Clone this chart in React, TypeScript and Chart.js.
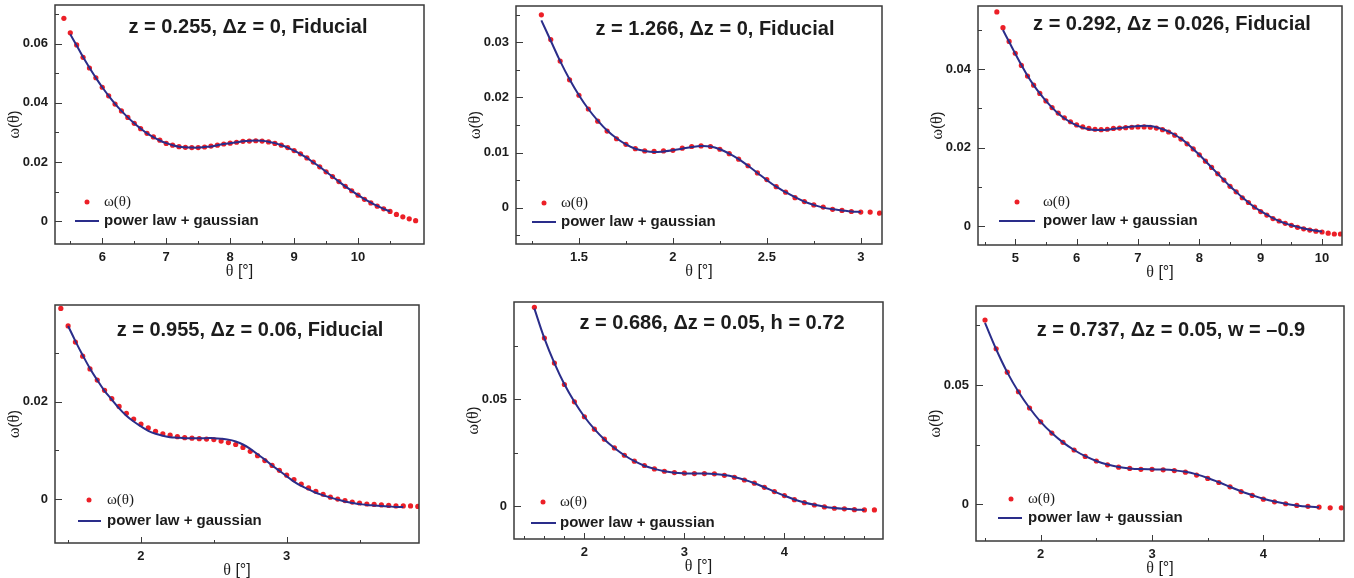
import React, { useEffect, useRef } from 'react';
import { Chart, registerables } from 'chart.js';

Chart.register(...registerables);

const SANS = '"Liberation Sans", Arial, Helvetica, sans-serif';
const SERIF = '"Liberation Serif", "Times New Roman", serif';
const RED = '#ec1f27';
const BLUE = '#2a2d8a';
const INK = '#1c1c1c';
const FRAME = '#3a3a3a';

// ---------- Panel 1: z = 0.255, Δz = 0, Fiducial ----------
const p1Theta = [5.4, 5.5, 5.6, 5.7, 5.8, 5.9, 6.0, 6.1, 6.2, 6.3, 6.4, 6.5, 6.6, 6.7, 6.8, 6.9, 7.0, 7.1, 7.2, 7.3, 7.4, 7.5, 7.6, 7.7, 7.8, 7.9, 8.0, 8.1, 8.2, 8.3, 8.4, 8.5, 8.6, 8.7, 8.8, 8.9, 9.0, 9.1, 9.2, 9.3, 9.4, 9.5, 9.6, 9.7, 9.8, 9.9, 10.0, 10.1, 10.2, 10.3, 10.4, 10.5, 10.6, 10.7, 10.8, 10.9];
const p1Omega = [0.0686, 0.0637, 0.0596, 0.0554, 0.0518, 0.0485, 0.0453, 0.0424, 0.0396, 0.0373, 0.0351, 0.0331, 0.0313, 0.0297, 0.0285, 0.0274, 0.0263, 0.0257, 0.0252, 0.0250, 0.0249, 0.0249, 0.0251, 0.0254, 0.0257, 0.0261, 0.0264, 0.0267, 0.0270, 0.0271, 0.0272, 0.0271, 0.0268, 0.0263, 0.0257, 0.0249, 0.0239, 0.0228, 0.0214, 0.0200, 0.0184, 0.0167, 0.0151, 0.0134, 0.0118, 0.0103, 0.0088, 0.0074, 0.0062, 0.0051, 0.0042, 0.0033, 0.0023, 0.0015, 0.0008, 0.0002];
const p1FitTheta = p1Theta.slice(1, 52);
const p1Fit = [0.0632, 0.0594, 0.0555, 0.0519, 0.0485, 0.0453, 0.0424, 0.0397, 0.0373, 0.0351, 0.0331, 0.0313, 0.0297, 0.0284, 0.0273, 0.0264, 0.0257, 0.0252, 0.0250, 0.0249, 0.0249, 0.0251, 0.0253, 0.0257, 0.0261, 0.0264, 0.0267, 0.0270, 0.0272, 0.0273, 0.0272, 0.0269, 0.0264, 0.0257, 0.0249, 0.0239, 0.0227, 0.0214, 0.0199, 0.0184, 0.0167, 0.0151, 0.0134, 0.0118, 0.0103, 0.0088, 0.0075, 0.0063, 0.0052, 0.0042, 0.0033];

// ---------- Panel 2: z = 1.266, Δz = 0, Fiducial ----------
const p2Theta = [1.3, 1.35, 1.4, 1.45, 1.5, 1.55, 1.6, 1.65, 1.7, 1.75, 1.8, 1.85, 1.9, 1.95, 2.0, 2.05, 2.1, 2.15, 2.2, 2.25, 2.3, 2.35, 2.4, 2.45, 2.5, 2.55, 2.6, 2.65, 2.7, 2.75, 2.8, 2.85, 2.9, 2.95, 3.0, 3.05, 3.1];
const p2Omega = [0.0350, 0.0305, 0.0266, 0.0232, 0.0204, 0.0179, 0.0157, 0.0139, 0.0125, 0.0115, 0.0107, 0.0103, 0.0102, 0.0103, 0.0104, 0.0108, 0.0111, 0.0112, 0.0111, 0.0106, 0.0098, 0.0088, 0.0076, 0.0063, 0.0051, 0.0038, 0.0028, 0.0018, 0.0011, 0.0005, 0.0001, -0.0003, -0.0005, -0.0007, -0.0008, -0.0008, -0.0010];
const p2FitTheta = p2Theta.slice(0, 35);
const p2Fit = [0.0340, 0.0303, 0.0266, 0.0233, 0.0204, 0.0179, 0.0158, 0.0140, 0.0126, 0.0115, 0.0107, 0.0103, 0.0101, 0.0102, 0.0104, 0.0107, 0.0110, 0.0112, 0.0111, 0.0106, 0.0098, 0.0088, 0.0076, 0.0063, 0.0050, 0.0038, 0.0028, 0.0019, 0.0011, 0.0005, 0.0000, -0.0003, -0.0005, -0.0007, -0.0008];

// ---------- Panel 3: z = 0.292, Δz = 0.026, Fiducial ----------
const p3Theta = [4.7, 4.8, 4.9, 5.0, 5.1, 5.2, 5.3, 5.4, 5.5, 5.6, 5.7, 5.8, 5.9, 6.0, 6.1, 6.2, 6.3, 6.4, 6.5, 6.6, 6.7, 6.8, 6.9, 7.0, 7.1, 7.2, 7.3, 7.4, 7.5, 7.6, 7.7, 7.8, 7.9, 8.0, 8.1, 8.2, 8.3, 8.4, 8.5, 8.6, 8.7, 8.8, 8.9, 9.0, 9.1, 9.2, 9.3, 9.4, 9.5, 9.6, 9.7, 9.8, 9.9, 10.0, 10.1, 10.2, 10.3];
const p3Omega = [0.0545, 0.0505, 0.0470, 0.0440, 0.0409, 0.0382, 0.0359, 0.0338, 0.0319, 0.0302, 0.0288, 0.0276, 0.0266, 0.0258, 0.0253, 0.0249, 0.0247, 0.0246, 0.0247, 0.0249, 0.0250, 0.0251, 0.0252, 0.0253, 0.0253, 0.0252, 0.0250, 0.0246, 0.0240, 0.0232, 0.0222, 0.0210, 0.0197, 0.0182, 0.0166, 0.0150, 0.0134, 0.0118, 0.0102, 0.0088, 0.0073, 0.0061, 0.0049, 0.0038, 0.0029, 0.0020, 0.0014, 0.0008, 0.0003, -0.0002, -0.0006, -0.0009, -0.0012, -0.0014, -0.0017, -0.0019, -0.0019];
const p3FitTheta = p3Theta.slice(1, 54);
const p3Fit = [0.0499, 0.0469, 0.0439, 0.0410, 0.0383, 0.0359, 0.0338, 0.0319, 0.0302, 0.0287, 0.0275, 0.0265, 0.0257, 0.0251, 0.0247, 0.0245, 0.0245, 0.0246, 0.0248, 0.0250, 0.0252, 0.0254, 0.0255, 0.0256, 0.0255, 0.0252, 0.0247, 0.0241, 0.0233, 0.0223, 0.0211, 0.0197, 0.0182, 0.0166, 0.0150, 0.0134, 0.0118, 0.0102, 0.0088, 0.0074, 0.0061, 0.0049, 0.0039, 0.0030, 0.0021, 0.0014, 0.0008, 0.0003, -0.0001, -0.0005, -0.0008, -0.0011, -0.0013];

// ---------- Panel 4: z = 0.955, Δz = 0.06, Fiducial ----------
const p4Theta = [1.45, 1.5, 1.55, 1.6, 1.65, 1.7, 1.75, 1.8, 1.85, 1.9, 1.95, 2.0, 2.05, 2.1, 2.15, 2.2, 2.25, 2.3, 2.35, 2.4, 2.45, 2.5, 2.55, 2.6, 2.65, 2.7, 2.75, 2.8, 2.85, 2.9, 2.95, 3.0, 3.05, 3.1, 3.15, 3.2, 3.25, 3.3, 3.35, 3.4, 3.45, 3.5, 3.55, 3.6, 3.65, 3.7, 3.75, 3.8, 3.85, 3.9];
const p4Omega = [0.0391, 0.0355, 0.0322, 0.0293, 0.0267, 0.0244, 0.0223, 0.0206, 0.0190, 0.0176, 0.0164, 0.0154, 0.0146, 0.0139, 0.0134, 0.0131, 0.0128, 0.0126, 0.0125, 0.0124, 0.0123, 0.0122, 0.0119, 0.0116, 0.0112, 0.0106, 0.0098, 0.0089, 0.0079, 0.0069, 0.0059, 0.0049, 0.0040, 0.0031, 0.0023, 0.0016, 0.0010, 0.0004, 0.0000, -0.0003, -0.0006, -0.0008, -0.0010, -0.0011, -0.0012, -0.0013, -0.0014, -0.0014, -0.0014, -0.0015];
const p4FitTheta = p4Theta.slice(1, 48);
const p4Fit = [0.0355, 0.0324, 0.0295, 0.0268, 0.0244, 0.0222, 0.0204, 0.0186, 0.0171, 0.0159, 0.0149, 0.0140, 0.0134, 0.0130, 0.0127, 0.0126, 0.0125, 0.0125, 0.0125, 0.0125, 0.0125, 0.0124, 0.0122, 0.0118, 0.0112, 0.0103, 0.0092, 0.0081, 0.0069, 0.0058, 0.0047, 0.0036, 0.0027, 0.0020, 0.0013, 0.0008, 0.0003, -0.0001, -0.0005, -0.0008, -0.0010, -0.0012, -0.0013, -0.0014, -0.0015, -0.0016, -0.0016];

// ---------- Panel 5: z = 0.686, Δz = 0.05, h = 0.72 ----------
const p5Theta = [1.5, 1.6, 1.7, 1.8, 1.9, 2.0, 2.1, 2.2, 2.3, 2.4, 2.5, 2.6, 2.7, 2.8, 2.9, 3.0, 3.1, 3.2, 3.3, 3.4, 3.5, 3.6, 3.7, 3.8, 3.9, 4.0, 4.1, 4.2, 4.3, 4.4, 4.5, 4.6, 4.7, 4.8, 4.9];
const p5Omega = [0.0931, 0.0787, 0.0670, 0.0570, 0.0489, 0.0419, 0.0361, 0.0314, 0.0273, 0.0239, 0.0211, 0.0191, 0.0175, 0.0164, 0.0158, 0.0155, 0.0153, 0.0153, 0.0152, 0.0145, 0.0136, 0.0123, 0.0108, 0.0089, 0.0069, 0.0050, 0.0031, 0.0017, 0.0006, -0.0003, -0.0009, -0.0012, -0.0016, -0.0017, -0.0017];
const p5FitTheta = p5Theta.slice(0, 34);
const p5Fit = [0.0925, 0.0786, 0.0670, 0.0571, 0.0489, 0.0419, 0.0361, 0.0313, 0.0273, 0.0239, 0.0211, 0.0190, 0.0175, 0.0164, 0.0157, 0.0154, 0.0153, 0.0153, 0.0151, 0.0146, 0.0137, 0.0124, 0.0108, 0.0089, 0.0069, 0.0050, 0.0032, 0.0018, 0.0007, -0.0002, -0.0008, -0.0012, -0.0015, -0.0017];

// ---------- Panel 6: z = 0.737, Δz = 0.05, w = –0.9 ----------
const p6Theta = [1.5, 1.6, 1.7, 1.8, 1.9, 2.0, 2.1, 2.2, 2.3, 2.4, 2.5, 2.6, 2.7, 2.8, 2.9, 3.0, 3.1, 3.2, 3.3, 3.4, 3.5, 3.6, 3.7, 3.8, 3.9, 4.0, 4.1, 4.2, 4.3, 4.4, 4.5, 4.6, 4.7];
const p6Omega = [0.0772, 0.0652, 0.0554, 0.0472, 0.0404, 0.0346, 0.0299, 0.0260, 0.0228, 0.0201, 0.0182, 0.0166, 0.0156, 0.0151, 0.0147, 0.0147, 0.0145, 0.0142, 0.0135, 0.0123, 0.0109, 0.0092, 0.0074, 0.0054, 0.0038, 0.0022, 0.0011, 0.0003, -0.0004, -0.0008, -0.0011, -0.0014, -0.0014];
const p6FitTheta = p6Theta.slice(0, 31);
const p6Fit = [0.0760, 0.0650, 0.0553, 0.0472, 0.0404, 0.0346, 0.0299, 0.0260, 0.0228, 0.0202, 0.0182, 0.0167, 0.0157, 0.0151, 0.0148, 0.0147, 0.0146, 0.0143, 0.0137, 0.0126, 0.0111, 0.0093, 0.0074, 0.0055, 0.0039, 0.0024, 0.0012, 0.0003, -0.0004, -0.0009, -0.0012];

const panelTitles = [
  'z = 0.255, \u0394z = 0, Fiducial',
  'z = 1.266, \u0394z = 0, Fiducial',
  'z = 0.292, \u0394z = 0.026, Fiducial',
  'z = 0.955, \u0394z = 0.06, Fiducial',
  'z = 0.686, \u0394z = 0.05, h = 0.72',
  'z = 0.737, \u0394z = 0.05, w = \u20130.9',
];

type Panel = {
  title: string;
  dotX: number[]; dotY: number[]; fitX: number[]; fitY: number[];
  xMin: number; xMax: number; xStep: number; xMinor: number;
  yMin: number; yMax: number; yStep: number; yMinor: number;
  area: [number, number, number, number]; // left, top, right, bottom (page px)
  titleDx: number; titleDy: number;
  leg: { dotDx: number; dotDy: number; textDx: number; lineX0: number; lineX1: number; lineDy: number };
};

const panels: Panel[] = [
  {
    title: panelTitles[0], dotX: p1Theta, dotY: p1Omega, fitX: p1FitTheta, fitY: p1Fit,
    xMin: 5.261, xMax: 11.031, xStep: 1, xMinor: 0.5,
    yMin: -0.0077, yMax: 0.0731, yStep: 0.02, yMinor: 0.01,
    area: [55, 5, 424, 244], titleDx: 193, titleDy: 22,
    leg: { dotDx: 32, dotDy: -42, textDx: 49, lineX0: 20, lineX1: 44, lineDy: -23 },
  },
  {
    title: panelTitles[1], dotX: p2Theta, dotY: p2Omega, fitX: p2FitTheta, fitY: p2Fit,
    xMin: 1.165, xMax: 3.113, xStep: 0.5, xMinor: 0.25,
    yMin: -0.0066, yMax: 0.0366, yStep: 0.01, yMinor: 0.005,
    area: [516, 6, 882, 244], titleDx: 199, titleDy: 23,
    leg: { dotDx: 28, dotDy: -41, textDx: 45, lineX0: 16, lineX1: 40, lineDy: -22 },
  },
  {
    title: panelTitles[2], dotX: p3Theta, dotY: p3Omega, fitX: p3FitTheta, fitY: p3Fit,
    xMin: 4.393, xMax: 10.325, xStep: 1, xMinor: 0.5,
    yMin: -0.0047, yMax: 0.056, yStep: 0.02, yMinor: 0.01,
    area: [978, 6, 1342, 245], titleDx: 194, titleDy: 18,
    leg: { dotDx: 39, dotDy: -43, textDx: 65, lineX0: 21, lineX1: 57, lineDy: -24 },
  },
  {
    title: panelTitles[3], dotX: p4Theta, dotY: p4Omega, fitX: p4FitTheta, fitY: p4Fit,
    xMin: 1.41, xMax: 3.908, xStep: 1, xMinor: 0.5,
    yMin: -0.009, yMax: 0.0398, yStep: 0.02, yMinor: 0.01,
    area: [55, 305, 419, 543], titleDx: 195, titleDy: 25,
    leg: { dotDx: 34, dotDy: -43, textDx: 52, lineX0: 23, lineX1: 46, lineDy: -22 },
  },
  {
    title: panelTitles[4], dotX: p5Theta, dotY: p5Omega, fitX: p5FitTheta, fitY: p5Fit,
    xMin: 1.296, xMax: 4.986, xStep: 1, xMinor: 0.2,
    yMin: -0.0153, yMax: 0.0956, yStep: 0.05, yMinor: 0.025,
    area: [514, 302, 883, 539], titleDx: 198, titleDy: 21,
    leg: { dotDx: 29, dotDy: -37, textDx: 46, lineX0: 17, lineX1: 42, lineDy: -16 },
  },
  {
    title: panelTitles[5], dotX: p6Theta, dotY: p6Omega, fitX: p6FitTheta, fitY: p6Fit,
    xMin: 1.419, xMax: 4.724, xStep: 1, xMinor: 0.5,
    yMin: -0.0153, yMax: 0.0831, yStep: 0.05, yMinor: 0.025,
    area: [976, 306, 1344, 541], titleDx: 195, titleDy: 24,
    leg: { dotDx: 35, dotDy: -42, textDx: 52, lineX0: 22, lineX1: 46, lineDy: -23 },
  },
];

const L = 60; // y-axis box width
const T = 18; // top padding
const R = 16; // right padding
const B = 40; // x-axis box height

function forEachTick(min: number, max: number, minor: number, major: number, fn: (v: number, isMajor: boolean) => void) {
  const k0 = Math.ceil(min / minor - 1e-9);
  const k1 = Math.floor(max / minor + 1e-9);
  const edge = (max - min) * 0.012;
  for (let k = k0; k <= k1; k++) {
    const v = k * minor;
    if (v < min + edge || v > max - edge) continue;
    const r = v / major;
    fn(v, Math.abs(r - Math.round(r)) < 1e-6);
  }
}

function majorValues(min: number, max: number, step: number) {
  const out: { value: number }[] = [];
  const edge = (max - min) * 0.012;
  const k0 = Math.ceil(min / step - 1e-9);
  const k1 = Math.floor(max / step + 1e-9);
  for (let k = k0; k <= k1; k++) {
    const v = +(k * step).toFixed(6);
    if (v < min + edge || v > max - edge) continue;
    out.push({ value: v });
  }
  return out;
}

function richText(ctx: CanvasRenderingContext2D, parts: [string, string][], x: number, y: number, align: 'left' | 'center') {
  let total = 0;
  const ws = parts.map(([t, f]) => {
    ctx.font = f;
    const w = ctx.measureText(t).width;
    total += w;
    return w;
  });
  let cx = align === 'center' ? x - total / 2 : x;
  ctx.textAlign = 'left';
  ctx.textBaseline = 'middle';
  parts.forEach(([t, f], i) => {
    ctx.font = f;
    ctx.fillText(t, cx, y);
    cx += ws[i];
  });
}

function drawDecor(chart: any, p: Panel) {
  const { ctx, chartArea: a, scales } = chart;
  const xs = scales.x;
  const ys = scales.y;
  ctx.save();
  // inward tick marks
  ctx.strokeStyle = FRAME;
  ctx.lineWidth = 1;
  ctx.beginPath();
  forEachTick(p.xMin, p.xMax, p.xMinor, p.xStep, (v, major) => {
    const px = Math.round(xs.getPixelForValue(v)) + 0.5;
    ctx.moveTo(px, a.bottom);
    ctx.lineTo(px, a.bottom - (major ? 6 : 3));
  });
  forEachTick(p.yMin, p.yMax, p.yMinor, p.yStep, (v, major) => {
    const py = Math.round(ys.getPixelForValue(v)) + 0.5;
    ctx.moveTo(a.left, py);
    ctx.lineTo(a.left + (major ? 7 : 4), py);
  });
  ctx.stroke();
  // frame
  ctx.lineWidth = 1.5;
  ctx.strokeRect(a.left, a.top, a.right - a.left, a.bottom - a.top);
  // panel title
  ctx.fillStyle = INK;
  ctx.font = `bold 20px ${SANS}`;
  ctx.textAlign = 'center';
  ctx.textBaseline = 'middle';
  ctx.fillText(p.title, a.left + p.titleDx, a.top + p.titleDy);
  // legend
  const lg = p.leg;
  ctx.fillStyle = RED;
  ctx.beginPath();
  ctx.arc(a.left + lg.dotDx, a.bottom + lg.dotDy, 2.5, 0, Math.PI * 2);
  ctx.fill();
  ctx.fillStyle = INK;
  richText(ctx, [['\u03c9(\u03b8)', `15px ${SERIF}`]], a.left + lg.textDx, a.bottom + lg.dotDy, 'left');
  ctx.strokeStyle = BLUE;
  ctx.lineWidth = 2;
  ctx.beginPath();
  ctx.moveTo(a.left + lg.lineX0, a.bottom + lg.lineDy);
  ctx.lineTo(a.left + lg.lineX1, a.bottom + lg.lineDy);
  ctx.stroke();
  ctx.fillStyle = INK;
  ctx.font = `bold 15px ${SANS}`;
  ctx.textAlign = 'left';
  ctx.textBaseline = 'middle';
  ctx.fillText('power law + gaussian', a.left + lg.textDx, a.bottom + lg.lineDy);
  // axis titles
  richText(ctx, [['\u03b8', `16px ${SERIF}`], [' [\u00b0]', `16px ${SANS}`]], (a.left + a.right) / 2, a.bottom + 28, 'center');
  ctx.translate(a.left - 40, (a.top + a.bottom) / 2);
  ctx.rotate(-Math.PI / 2);
  richText(ctx, [['\u03c9', `16px ${SERIF}`], ['(', `15px ${SANS}`], ['\u03b8', `16px ${SERIF}`], [')', `15px ${SANS}`]], 0, 0, 'center');
  ctx.restore();
}

function fmt(v: number | string) {
  return String(Number(Number(v).toFixed(4)));
}

function PanelChart({ p }: { p: Panel }) {
  const ref = useRef<HTMLCanvasElement | null>(null);
  const [l, t, r, b] = p.area;
  const width = L + (r - l) + R;
  const height = T + (b - t) + B;
  useEffect(() => {
    if (!ref.current) return;
    const decor = {
      id: 'decor',
      afterDatasetsDraw(chart: any) {
        drawDecor(chart, p);
      },
    };
    const tickFont = { family: SANS, size: 13, weight: 'bold' as const };
    const chart = new Chart(ref.current, {
      type: 'scatter',
      data: {
        datasets: [
          {
            label: 'power law + gaussian',
            data: p.fitX.map((x, i) => ({ x, y: p.fitY[i] })),
            showLine: true,
            borderColor: BLUE,
            backgroundColor: BLUE,
            borderWidth: 2,
            pointRadius: 0,
            tension: 0.4,
            order: 0,
          },
          {
            label: '\u03c9(\u03b8)',
            data: p.dotX.map((x, i) => ({ x, y: p.dotY[i] })),
            showLine: false,
            pointRadius: 2.6,
            pointBackgroundColor: RED,
            pointBorderWidth: 0,
            backgroundColor: RED,
            borderColor: RED,
            order: 1,
          },
        ],
      },
      options: {
        responsive: false,
        animation: false,
        devicePixelRatio: 1,
        layout: { padding: { left: 0, top: T, right: R, bottom: 0 } },
        plugins: { legend: { display: false }, tooltip: { enabled: false }, title: { display: false } },
        scales: {
          x: {
            type: 'linear',
            min: p.xMin,
            max: p.xMax,
            grid: { display: false, drawTicks: false, tickLength: 0 },
            border: { display: false },
            afterBuildTicks: (s: any) => { s.ticks = majorValues(p.xMin, p.xMax, p.xStep); },
            afterFit: (s: any) => { s.height = B; },
            ticks: { padding: 6, color: INK, font: tickFont, maxRotation: 0, autoSkip: false, callback: (v: any) => fmt(v) },
          },
          y: {
            type: 'linear',
            min: p.yMin,
            max: p.yMax,
            grid: { display: false, drawTicks: false, tickLength: 0 },
            border: { display: false },
            afterBuildTicks: (s: any) => { s.ticks = majorValues(p.yMin, p.yMax, p.yStep); },
            afterFit: (s: any) => { s.width = L; },
            ticks: { padding: 7, color: INK, font: tickFont, autoSkip: false, callback: (v: any) => fmt(v) },
          },
        },
      },
      plugins: [decor],
    } as any);
    return () => chart.destroy();
  }, [p]);
  return (
    <canvas
      ref={ref}
      width={width}
      height={height}
      style={{ position: 'absolute', left: l - L, top: t - T, width, height, display: 'block' }}
    />
  );
}

export default function App() {
  return (
    <div style={{ position: 'absolute', left: 0, top: 0, width: 1354, height: 578, overflow: 'hidden', background: '#ffffff' }}>
      {panels.map((p, i) => (
        <PanelChart key={i} p={p} />
      ))}
    </div>
  );
}
